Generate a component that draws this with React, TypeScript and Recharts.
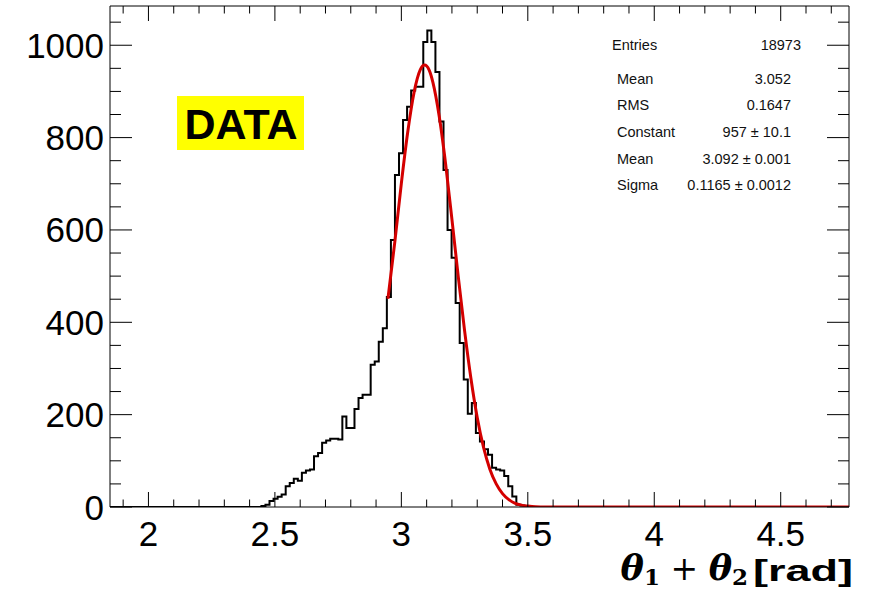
import React from "react";
import { LineChart, Line, XAxis, YAxis } from "recharts";

// histogram of theta1 + theta2, bins of equal width starting at BIN_START
const BIN_START = 2.4467;
const BIN_WIDTH = 0.016;
const COUNTS = [
  2, 5, 13, 18, 22, 27, 45, 52, 61, 57,
  74, 79, 81, 110, 117, 139, 144, 148, 148, 146,
  196, 171, 171, 212, 236, 243, 243, 308, 315, 358,
  387, 455, 578, 719, 766, 838, 867, 902, 910, 910,
  1007, 1032, 1007, 942, 835, 730, 600, 540, 442, 355,
  276, 202, 225, 160, 142, 125, 113, 85, 81, 79,
  67, 45, 23, 5, 3,
];

// gaussian fit curve
const FIT_X = [2.947, 2.975, 3.0, 3.025, 3.05, 3.075, 3.092, 3.11, 3.125, 3.15, 3.175, 3.2, 3.225, 3.25, 3.275, 3.3, 3.325, 3.35, 3.375, 3.4, 3.425, 3.45, 3.475, 3.5, 3.53, 3.57, 4.77];
const FIT_Y = [451, 578, 701, 811, 897, 947, 957, 946, 919, 845, 743, 623, 499, 382, 279, 194, 129, 82, 50, 29, 16, 8, 4, 2, 0.5, 0, 0];

const X_RANGE = [1.848, 4.77];
const Y_RANGE = [0, 1085];
const X_TICKS = [1.9, 2, 2.1, 2.2, 2.3, 2.4, 2.5, 2.6, 2.7, 2.8, 2.9, 3, 3.1, 3.2, 3.3, 3.4, 3.5, 3.6, 3.7, 3.8, 3.9, 4, 4.1, 4.2, 4.3, 4.4, 4.5, 4.6, 4.7];
const X_LABELS = [2, 2.5, 3, 3.5, 4, 4.5];
const Y_TICKS = [0, 50, 100, 150, 200, 250, 300, 350, 400, 450, 500, 550, 600, 650, 700, 750, 800, 850, 900, 950, 1000, 1050];
const Y_LABELS = [0, 200, 400, 600, 800, 1000];

const STATS = [
  { name: "Entries", value: "18973" },
  { name: "Mean", value: "3.052" },
  { name: "RMS", value: "0.1647" },
  { name: "Constant", value: "957 \u00b1 10.1" },
  { name: "Mean", value: "3.092 \u00b1 0.001" },
  { name: "Sigma", value: "0.1165 \u00b1 0.0012" },
];

const histData = [
  { x: X_RANGE[0], y: 0 },
  ...COUNTS.map((c, i) => ({ x: BIN_START + i * BIN_WIDTH, y: c })),
  { x: BIN_START + COUNTS.length * BIN_WIDTH, y: 0 },
  { x: X_RANGE[1], y: 0 },
];
const fitData = FIT_X.map((x, i) => ({ x, y: FIT_Y[i] }));

const SANS = "'Liberation Sans', Arial, Helvetica, sans-serif";
const SERIF = "'DejaVu Serif', 'Liberation Serif', serif";

const isIn = (v: number, list: number[]) => list.some((l) => Math.abs(l - v) < 1e-6);

function XTick(props: any) {
  const { x, y, payload, top } = props;
  const major = isIn(payload.value, X_LABELS);
  const len = major ? 15 : 7.5;
  return (
    <g>
      <line x1={x} x2={x} y1={y} y2={top ? y + len : y - len} stroke="#000" strokeWidth={1} />
      {!top && major && (
        <text x={x} y={y + 39} textAnchor="middle" fontSize={35} fontFamily={SANS} fill="#000">
          {payload.value}
        </text>
      )}
    </g>
  );
}

function YTick(props: any) {
  const { x, y, payload, right } = props;
  const major = isIn(payload.value, Y_LABELS);
  const len = major ? 22 : 11;
  return (
    <g>
      <line x1={x} x2={right ? x - len : x + len} y1={y} y2={y} stroke="#000" strokeWidth={1} />
      {!right && major && (
        <text x={x - 6} y={y + 12.5} textAnchor="end" fontSize={35} fontFamily={SANS} fill="#000">
          {payload.value}
        </text>
      )}
    </g>
  );
}

export default function App() {
  return (
    <div style={{ position: "absolute", left: 0, top: 0, width: 874, height: 593, background: "#fff" }}>
      <LineChart width={874} height={593} margin={{ top: 0, right: 0, bottom: 0, left: 0 }}>
        <XAxis
          xAxisId="b"
          dataKey="x"
          type="number"
          domain={X_RANGE}
          allowDataOverflow
          ticks={X_TICKS}
          interval={0}
          height={86}
          tickSize={0}
          tickMargin={0}
          tickLine={false}
          axisLine={{ stroke: "#000" }}
          tick={(p: any) => <XTick {...p} />}
        />
        <XAxis
          xAxisId="t"
          orientation="top"
          dataKey="x"
          type="number"
          domain={X_RANGE}
          allowDataOverflow
          ticks={X_TICKS}
          interval={0}
          height={6}
          tickSize={0}
          tickMargin={0}
          tickLine={false}
          axisLine={{ stroke: "#000" }}
          tick={(p: any) => <XTick {...p} top />}
        />
        <YAxis
          yAxisId="l"
          type="number"
          domain={Y_RANGE}
          allowDataOverflow
          ticks={Y_TICKS}
          interval={0}
          width={110}
          tickSize={0}
          tickMargin={0}
          tickLine={false}
          axisLine={{ stroke: "#000" }}
          tick={(p: any) => <YTick {...p} />}
        />
        <YAxis
          yAxisId="r"
          orientation="right"
          type="number"
          domain={Y_RANGE}
          allowDataOverflow
          ticks={Y_TICKS}
          interval={0}
          width={25}
          tickSize={0}
          tickMargin={0}
          tickLine={false}
          axisLine={{ stroke: "#000" }}
          tick={(p: any) => <YTick {...p} right />}
        />
        <Line
          data={histData}
          dataKey="y"
          xAxisId="b"
          yAxisId="l"
          type="stepAfter"
          stroke="#000"
          strokeWidth={2}
          dot={false}
          isAnimationActive={false}
        />
        <Line
          data={fitData}
          dataKey="y"
          xAxisId="b"
          yAxisId="l"
          type="monotone"
          stroke="#d40000"
          strokeWidth={3}
          dot={false}
          isAnimationActive={false}
        />
        <Line
          data={fitData}
          dataKey="y"
          xAxisId="t"
          yAxisId="r"
          stroke="none"
          dot={false}
          legendType="none"
          isAnimationActive={false}
        />
      </LineChart>
      <svg width={874} height={593} style={{ position: "absolute", left: 0, top: 0, pointerEvents: "none" }}>
        <rect x={177} y={96} width={127} height={54} fill="#ffff00" />
        <text x={241} y={139} textAnchor="middle" fontSize={43} fontWeight="bold" fontFamily={SANS} fill="#000">
          DATA
        </text>
        {STATS.map((s, i) => {
          const ys = [50, 84, 110, 137, 163.5, 190];
          const first = i === 0;
          return (
            <g key={i}>
              <text x={first ? 612 : 617} y={ys[i]} fontSize={14.5} fontFamily={SANS} fill="#111">
                {s.name}
              </text>
              <text x={first ? 801 : 791} y={ys[i]} textAnchor="end" fontSize={14.5} fontFamily={SANS} fill="#111">
                {s.value}
              </text>
            </g>
          );
        })}
        <text x={748} y={580} textAnchor="end" fill="#000">
          <tspan fontFamily={SERIF} fontStyle="italic" fontWeight="bold" fontSize={35}>θ</tspan>
          <tspan fontFamily={SERIF} fontWeight="bold" fontSize={23} dy={5}>1</tspan>
          <tspan fontFamily={SERIF} fontSize={33} dy={-5}>{" + "}</tspan>
          <tspan fontFamily={SERIF} fontStyle="italic" fontWeight="bold" fontSize={35}>θ</tspan>
          <tspan fontFamily={SERIF} fontWeight="bold" fontSize={23} dy={5}>2</tspan>
        </text>
        <text
          x={853}
          y={581}
          textAnchor="end"
          fontFamily={SANS}
          fontWeight="bold"
          fontSize={30}
          textLength={100}
          lengthAdjust="spacingAndGlyphs"
          fill="#000"
        >
          [rad]
        </text>
      </svg>
    </div>
  );
}
